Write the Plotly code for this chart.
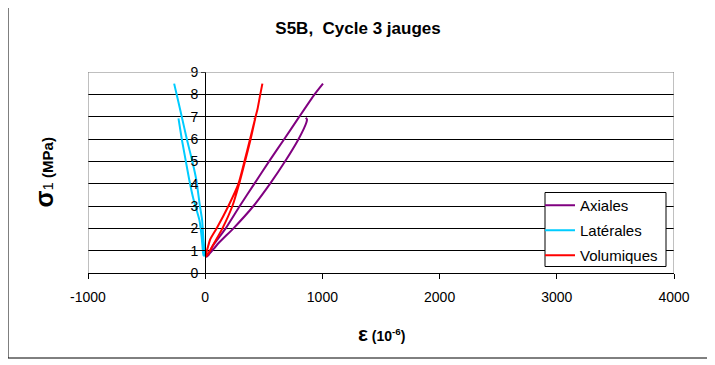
import plotly.graph_objects as go

# Axiales (unloading from ~7 MPa, then reloading to ~8.5 MPa)
ax_x = [858, 868, 864, 797, 682, 554, 412, 241, 113, 30, 12, 22, 62, 175, 295, 420, 545, 675, 803, 933, 1005]
ax_y = [6.95, 6.88, 6.75, 6.0, 5.0, 4.0, 3.0, 2.0, 1.33, 0.82, 0.73, 0.8, 1.2, 2.0, 3.0, 4.0, 5.0, 6.0, 7.0, 8.0, 8.48]

# Latérales
lat_x = [-228, -200, -165, -137, -100, -49, -30, -20, -15, -8, -6, -15, -26, -45, -77, -110, -157, -200, -235, -265]
lat_y = [6.92, 6.0, 5.0, 4.2, 3.3, 2.36, 1.6, 1.0, 0.8, 0.78, 1.0, 1.5, 2.36, 3.0, 4.2, 5.0, 6.0, 7.0, 7.8, 8.48]

# Volumiques
vol_x = [418, 426, 422, 388, 340, 290, 232, 147, 78, 30, 10, 5, 15, 42, 98, 198, 284, 335, 383, 430, 446, 470, 488]
vol_y = [6.95, 6.88, 6.8, 6.0, 5.0, 4.0, 3.0, 2.0, 1.35, 0.9, 0.75, 0.8, 1.0, 1.5, 2.0, 3.0, 4.0, 5.0, 6.0, 7.0, 7.33, 8.0, 8.48]

series_names = ["Axiales", "Latérales", "Volumiques"]
series_colors = ["#800080", "#00CCFF", "#FF0000"]

x_ticks = [-1000, 0, 1000, 2000, 3000, 4000]
x_tick_labels = ["-1000", "0", "1000", "2000", "3000", "4000"]
y_ticks = list(range(0, 10))

FONT = "Liberation Sans, Arial, sans-serif"

fig = go.Figure()
for name, xs, ys, col in zip(series_names, [ax_x, lat_x, vol_x], [ax_y, lat_y, vol_y], series_colors):
    fig.add_trace(go.Scatter(x=xs, y=ys, mode="lines", name=name, legendgroup=name,
                             line=dict(color=col, width=2, shape="spline", smoothing=0.5)))

fig.update_layout(
    width=707, height=357,
    margin=dict(l=80, r=41, t=64, b=92),
    paper_bgcolor="white", plot_bgcolor="white",
    font=dict(family=FONT, size=14, color="black"),
    showlegend=True,
    legend=dict(x=(540 - 88) / 586, y=(273 - 189) / 201, xanchor="left", yanchor="top",
                bgcolor="rgba(0,0,0,0)", borderwidth=0,
                font=dict(size=15), traceorder="grouped", tracegroupgap=2.5),
    title=dict(text="<b>S5B,  Cycle 3 jauges</b>", x=(358 - 8) / 707, xref="container",
               y=1 - 20 / 357, yref="container", yanchor="middle", font=dict(size=17)),
    xaxis=dict(range=[-1000, 4000], tickvals=x_ticks, ticktext=x_tick_labels,
               ticks="outside", ticklen=5, ticklabelstandoff=6,
               tickcolor="black", showline=True, linecolor="black", linewidth=1,
               showgrid=False, zeroline=False, tickfont=dict(size=14)),
    yaxis=dict(range=[0, 9], tickvals=y_ticks, ticks="outside", ticklen=4,
               tickcolor="black", showline=True, linecolor="black", linewidth=1,
               anchor="free", position=0.2, showgrid=True, gridcolor="black",
               gridwidth=1, zeroline=False, tickfont=dict(size=14)),
)

# grey plot-area frame (left, top, right)
fig.add_shape(type="path", xref="x", yref="y",
              path="M -1000,0 L -1000,9 L 4000,9 L 4000,0",
              line=dict(color="#808080", width=1), layer="above")
# legend box
fig.add_shape(type="rect", xref="paper", yref="paper",
              x0=(545 - 88) / 586, x1=(666 - 88) / 586,
              y0=(273 - 266.5) / 201, y1=(273 - 192.5) / 201,
              line=dict(color="black", width=1), fillcolor="white", layer="above")
# outer chart border
fig.add_shape(type="rect", xref="paper", yref="paper",
              x0=-80 / 586, x1=(708 - 88) / 586, y0=(273 - 358) / 201, y1=(273 - 4.5) / 201,
              line=dict(color="black", width=1))

fig.add_annotation(xref="paper", yref="paper", x=0.5, y=(273 - 333) / 201,
                   text="<b><span style='font-size:21px'>ε</span> (10<sup>-6</sup>)</b>",
                   showarrow=False, font=dict(size=14), yanchor="middle")
fig.add_annotation(xref="paper", yref="paper", x=(43 - 88) / 586, y=0.5,
                   text="<b><span style='font-size:25px'>σ</span></b><span style='font-size:15px'>1</span><b> (MPa)</b>",
                   textangle=-90, showarrow=False, font=dict(size=15), xanchor="center")

fig.write_html("out.html")
